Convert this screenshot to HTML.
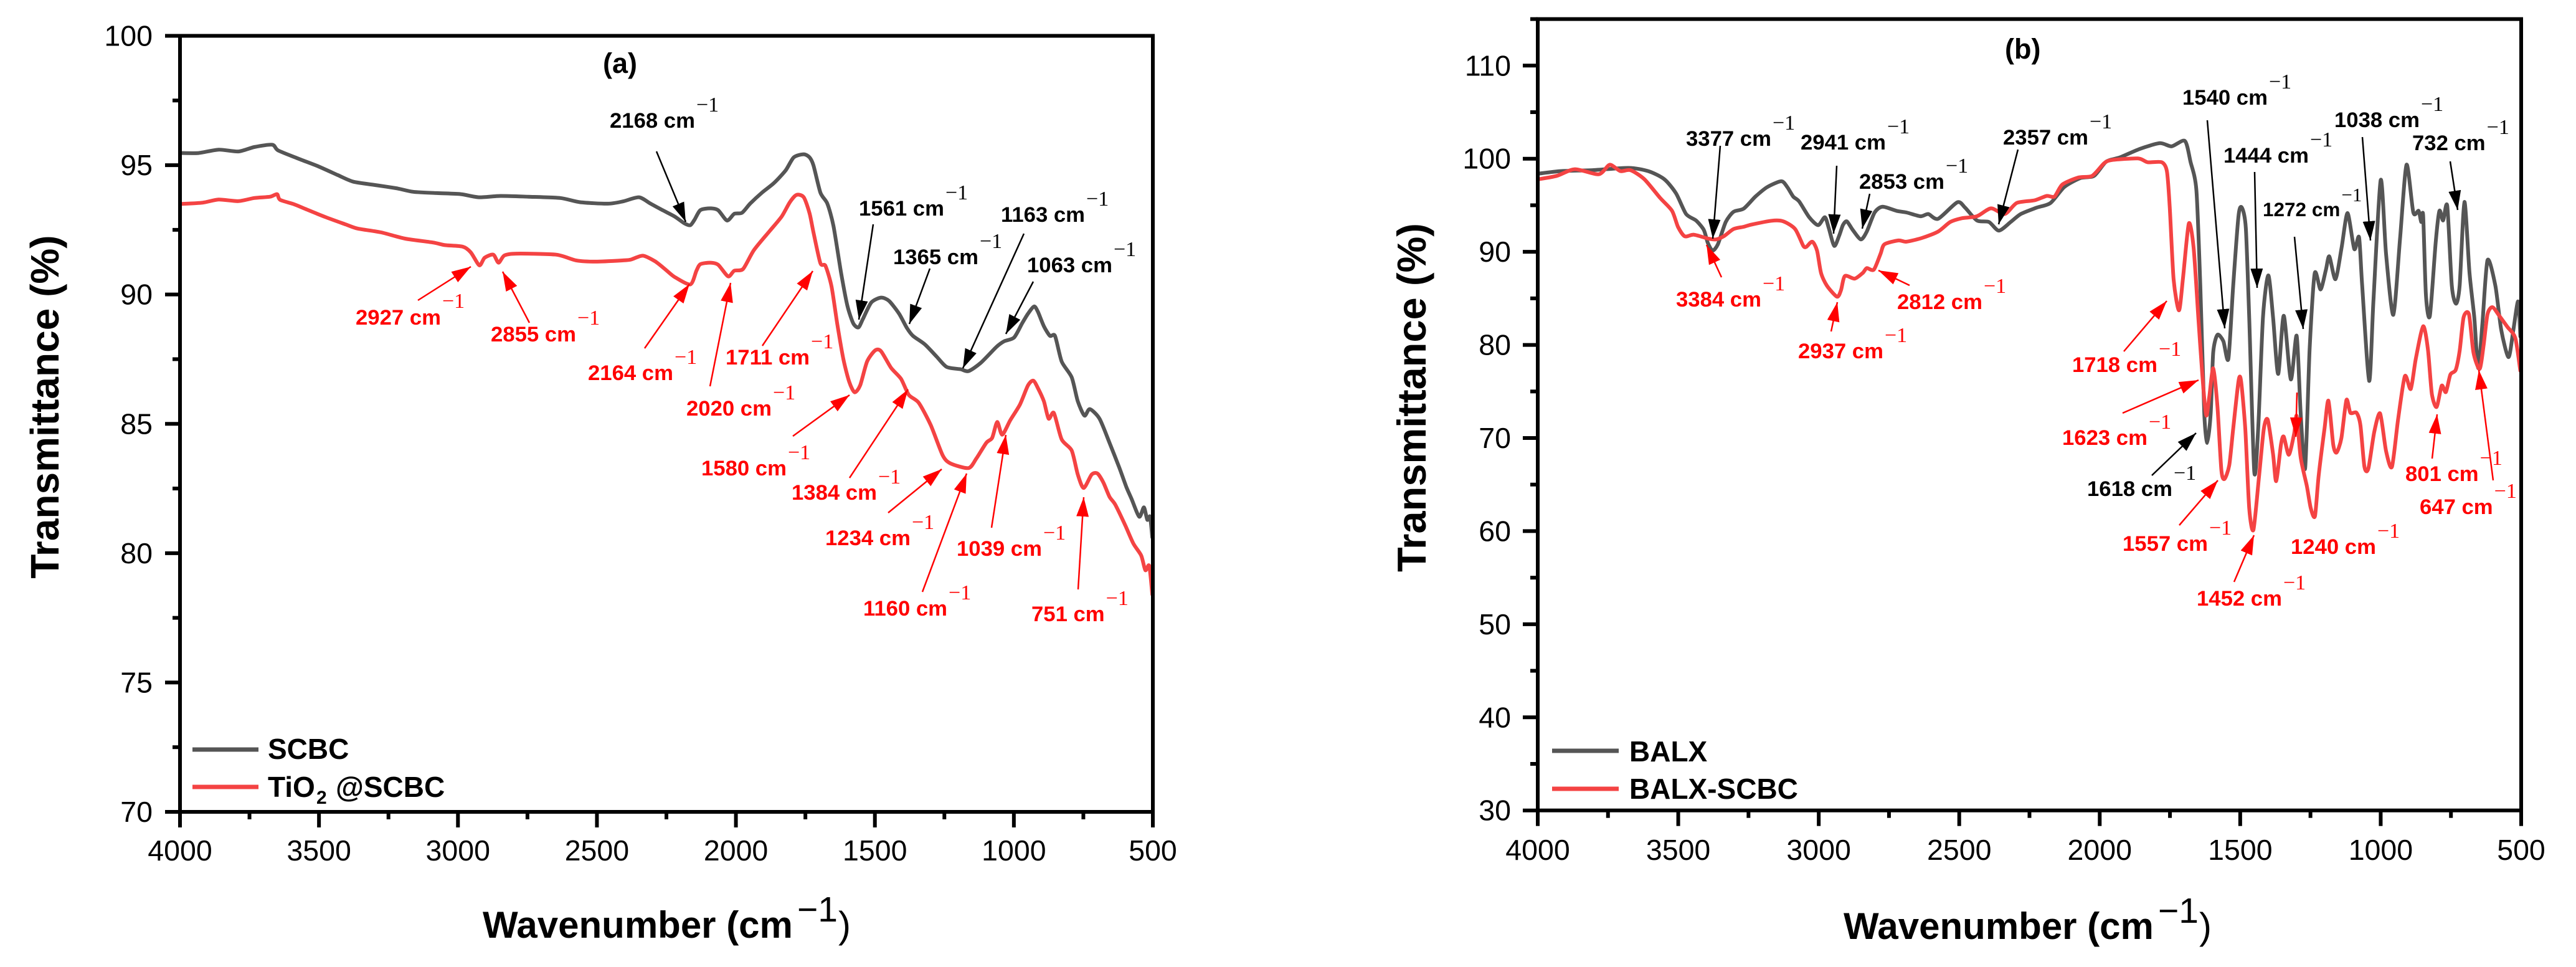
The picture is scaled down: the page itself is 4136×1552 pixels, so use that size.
<!DOCTYPE html>
<html lang="en">
<head>
<meta charset="utf-8">
<title>FTIR spectra of SCBC and BALX composites</title>
<style>
html,body{margin:0;padding:0;background:#fff;}
svg{display:block;}
text{font-family:"Liberation Sans",Arial,sans-serif;}
.tick{font-size:46.5px;fill:#000;}
.title{font-size:60px;font-weight:bold;fill:#000;}
.leg{font-size:46px;font-weight:bold;fill:#000;}
.pk{font-size:34.7px;font-weight:bold;}
.pk tspan{font-family:"Liberation Serif",serif;font-weight:normal;font-size:34px;}
.pks{font-size:31.5px;font-weight:bold;}
.pks tspan{font-family:"Liberation Serif",serif;font-weight:normal;font-size:31px;}
.r{fill:#f00;}
.k{fill:#000;}
.ar{stroke:#f00;stroke-width:2.5;marker-end:url(#head-red);}
.ak{stroke:#000;stroke-width:2.5;marker-end:url(#head-black);}
</style>
</head>
<body>
<svg xmlns="http://www.w3.org/2000/svg" width="4136" height="1552" viewBox="0 0 4136 1552">
<defs>
<marker id="head-red" markerUnits="userSpaceOnUse" markerWidth="32" markerHeight="20" refX="31" refY="10" orient="auto"><path d="M0 0L31 10L0 20Z" fill="#f00"/></marker>
<marker id="head-black" markerUnits="userSpaceOnUse" markerWidth="32" markerHeight="20" refX="31" refY="10" orient="auto"><path d="M0 0L31 10L0 20Z" fill="#000"/></marker>
</defs>
<rect width="4136" height="1552" fill="#fff"/>

<g id="panel-a-series"></g>
<g id="panel-a-axes"></g>
<g id="panel-b-series"></g>
<g id="panel-b-axes"></g>

<!-- Panel (a) text -->
<g>
<text x="968" y="117" font-size="45" font-weight="bold">(a)</text>
<text class="title" transform="translate(94,653) rotate(-90)" text-anchor="middle" style="font-size:64px">Transmittance (%)</text>
<text class="title" x="775" y="1505">Wavenumber (cm<tspan x="1280" y="1479" font-weight="normal" font-size="57">−1</tspan><tspan x="1346" y="1505" font-weight="normal">)</tspan></text>

<line x1="309" y1="1203" x2="415" y2="1203" stroke="#555" stroke-width="7"/>
<line x1="309" y1="1263" x2="415" y2="1263" stroke="#f44343" stroke-width="7"/>
<text class="leg" x="430" y="1218">SCBC</text>
<text class="leg" x="430" y="1279">TiO<tspan x="508" y="1290" font-size="30">2</tspan><tspan x="539" y="1279">@SCBC</tspan></text>

<line class="ak" x1="1054" y1="243" x2="1101" y2="356"/>
<line class="ak" x1="1402" y1="360" x2="1379" y2="513"/>
<line class="ak" x1="1493" y1="431" x2="1460" y2="520"/>
<line class="ak" x1="1644" y1="375" x2="1546" y2="591"/>
<line class="ak" x1="1659" y1="452" x2="1615" y2="536"/>
<line class="ar" x1="671" y1="482" x2="756" y2="428"/>
<line class="ar" x1="850" y1="518" x2="807" y2="436"/>
<line class="ar" x1="1035" y1="559" x2="1107" y2="456"/>
<line class="ar" x1="1140" y1="620" x2="1173" y2="454"/>
<line class="ar" x1="1224" y1="555" x2="1305" y2="435"/>
<line class="ar" x1="1273" y1="700" x2="1364" y2="634"/>
<line class="ar" x1="1364" y1="767" x2="1458" y2="625"/>
<line class="ar" x1="1426" y1="823" x2="1512" y2="753"/>
<line class="ar" x1="1481" y1="950" x2="1552" y2="760"/>
<line class="ar" x1="1592" y1="847" x2="1615" y2="698"/>
<line class="ar" x1="1731" y1="946" x2="1740" y2="798"/>

<text class="pk k" x="979" y="205">2168 cm<tspan dx="2" dy="-26">−1</tspan></text>
<text class="pk k" x="1379" y="346">1561 cm<tspan dx="2" dy="-26">−1</tspan></text>
<text class="pk k" x="1607" y="356">1163 cm<tspan dx="2" dy="-26">−1</tspan></text>
<text class="pk k" x="1434" y="424">1365 cm<tspan dx="2" dy="-26">−1</tspan></text>
<text class="pk k" x="1649" y="437">1063 cm<tspan dx="2" dy="-26">−1</tspan></text>
<text class="pk r" x="571" y="521">2927 cm<tspan dx="2" dy="-27">−1</tspan></text>
<text class="pk r" x="788" y="548">2855 cm<tspan dx="2" dy="-27">−1</tspan></text>
<text class="pk r" x="944" y="610">2164 cm<tspan dx="2" dy="-26">−1</tspan></text>
<text class="pk r" x="1165" y="585">1711 cm<tspan dx="2" dy="-26">−1</tspan></text>
<text class="pk r" x="1102" y="667">2020 cm<tspan dx="2" dy="-26">−1</tspan></text>
<text class="pk r" x="1126" y="763">1580 cm<tspan dx="2" dy="-26">−1</tspan></text>
<text class="pk r" x="1271" y="802">1384 cm<tspan dx="2" dy="-26">−1</tspan></text>
<text class="pk r" x="1325" y="875">1234 cm<tspan dx="2" dy="-26">−1</tspan></text>
<text class="pk r" x="1536" y="892">1039 cm<tspan dx="2" dy="-26">−1</tspan></text>
<text class="pk r" x="1386" y="988">1160 cm<tspan dx="2" dy="-26">−1</tspan></text>
<text class="pk r" x="1656" y="997">751 cm<tspan dx="2" dy="-26">−1</tspan></text>
</g>

<!-- Panel (b) text -->
<g>
<text x="3219" y="94" font-size="45" font-weight="bold">(b)</text>
<text class="title" transform="translate(2289,638) rotate(-90)" text-anchor="middle" style="font-size:65px">Transmittance (%)</text>
<text class="title" x="2960" y="1507">Wavenumber (cm<tspan x="3465" y="1481" font-weight="normal" font-size="57">−1</tspan><tspan x="3531" y="1507" font-weight="normal">)</tspan></text>

<line x1="2492" y1="1205" x2="2599" y2="1205" stroke="#555" stroke-width="7"/>
<line x1="2492" y1="1266" x2="2599" y2="1266" stroke="#f44343" stroke-width="7"/>
<text class="leg" x="2616" y="1222">BALX</text>
<text class="leg" x="2616" y="1282">BALX-SCBC</text>

<line class="ak" x1="2762" y1="234" x2="2750" y2="383"/>
<line class="ak" x1="2949" y1="266" x2="2944" y2="375"/>
<line class="ak" x1="3002" y1="311" x2="2990" y2="367"/>
<line class="ak" x1="3240" y1="240" x2="3209" y2="360"/>
<line class="ak" x1="3544" y1="193" x2="3572" y2="527"/>
<line class="ak" x1="3620" y1="276" x2="3624" y2="462"/>
<line class="ak" x1="3684" y1="380" x2="3698" y2="528"/>
<line class="ak" x1="3793" y1="220" x2="3806" y2="386"/>
<line class="ak" x1="3934" y1="259" x2="3946" y2="337"/>
<line class="ak" x1="3455" y1="763" x2="3526" y2="695"/>
<line class="ar" x1="2764" y1="445" x2="2740" y2="393"/>
<line class="ar" x1="2940" y1="532" x2="2950" y2="485"/>
<line class="ar" x1="3066" y1="458" x2="3016" y2="434"/>
<line class="ar" x1="3410" y1="564" x2="3479" y2="483"/>
<line class="ar" x1="3408" y1="663" x2="3530" y2="610"/>
<line class="ar" x1="3499" y1="843" x2="3561" y2="771"/>
<line class="ar" x1="3587" y1="934" x2="3619" y2="859"/>
<line class="ar" x1="3688" y1="630" x2="3686" y2="701"/>
<line class="ar" x1="3905" y1="736" x2="3913" y2="665"/>
<line class="ar" x1="4003" y1="771" x2="3980" y2="594"/>

<text class="pk k" x="2707" y="234">3377 cm<tspan dx="2" dy="-26">−1</tspan></text>
<text class="pk k" x="2891" y="240">2941 cm<tspan dx="2" dy="-26">−1</tspan></text>
<text class="pk k" x="2985" y="303">2853 cm<tspan dx="2" dy="-26">−1</tspan></text>
<text class="pk k" x="3216" y="232">2357 cm<tspan dx="2" dy="-26">−1</tspan></text>
<text class="pk k" x="3504" y="168">1540 cm<tspan dx="2" dy="-26">−1</tspan></text>
<text class="pk k" x="3570" y="261">1444 cm<tspan dx="2" dy="-26">−1</tspan></text>
<text class="pk k" x="3748" y="204">1038 cm<tspan dx="2" dy="-26">−1</tspan></text>
<text class="pk k" x="3873" y="241">732 cm<tspan dx="2" dy="-26">−1</tspan></text>
<text class="pks k" x="3633" y="347">1272 cm<tspan dx="2" dy="-24">−1</tspan></text>
<text class="pk k" x="3351" y="796">1618 cm<tspan dx="2" dy="-26">−1</tspan></text>
<text class="pk r" x="2691" y="492">3384 cm<tspan dx="2" dy="-26">−1</tspan></text>
<text class="pk r" x="2887" y="575">2937 cm<tspan dx="2" dy="-26">−1</tspan></text>
<text class="pk r" x="3046" y="496">2812 cm<tspan dx="2" dy="-26">−1</tspan></text>
<text class="pk r" x="3327" y="597">1718 cm<tspan dx="2" dy="-26">−1</tspan></text>
<text class="pk r" x="3311" y="714">1623 cm<tspan dx="2" dy="-26">−1</tspan></text>
<text class="pk r" x="3408" y="884">1557 cm<tspan dx="2" dy="-26">−1</tspan></text>
<text class="pk r" x="3527" y="972">1452 cm<tspan dx="2" dy="-26">−1</tspan></text>
<text class="pk r" x="3678" y="889">1240 cm<tspan dx="2" dy="-26">−1</tspan></text>
<text class="pk r" x="3862" y="772">801 cm<tspan dx="2" dy="-26">−1</tspan></text>
<text class="pk r" x="3885" y="825">647 cm<tspan dx="2" dy="-26">−1</tspan></text>
</g>
</svg>

<script>
const xMajorTicks = [4000,3500,3000,2500,2000,1500,1000,500];
const xMinorTicks = [3750,3250,2750,2250,1750,1250,750];
const yMajorTicksA = [100,95,90,85,80,75,70];
const yMinorTicksA = [97.5,92.5,87.5,82.5,77.5,72.5];
const yMajorTicksB = [110,100,90,80,70,60,50,40,30];
const yMinorTicksB = [115,105,95,85,75,65,55,45,35];

const scbcWavenumber = [4000,3933,3861,3790,3733,3668,3647,3576,3504,3433,3376,3290,3218,3161,3075,2990,2925,2847,2747,2632,2561,2461,2406,2349,2307,2264,2221,2185,2164,2149,2128,2092,2064,2032,2006,1978,1949,1906,1863,1821,1792,1756,1735,1721,1696,1671,1649,1621,1599,1578,1559,1542,1513,1478,1449,1413,1385,1363,1320,1278,1242,1192,1163,1120,1063,1035,999,970,949,927,913,892,870,852,828,792,770,746,727,692,656,620,595,577,549,532,520,510,502];
const scbcTransmittance = [95.47,95.47,95.60,95.53,95.70,95.79,95.57,95.26,94.96,94.62,94.36,94.22,94.10,93.97,93.92,93.88,93.76,93.81,93.78,93.73,93.57,93.51,93.60,93.76,93.51,93.26,93.02,92.75,92.68,92.89,93.26,93.33,93.26,92.86,93.12,93.16,93.51,93.94,94.31,94.80,95.30,95.42,95.30,94.99,93.94,93.51,92.65,90.80,89.57,88.89,88.73,89.08,89.69,89.88,89.75,89.26,88.71,88.40,88.07,87.60,87.20,87.11,87.04,87.35,87.97,88.19,88.34,88.89,89.26,89.54,89.32,88.77,88.40,88.40,87.41,86.80,85.87,85.32,85.57,85.20,84.27,83.29,82.55,82.11,81.41,81.77,81.29,81.41,80.61];

const tio2Wavenumber = [4000,3919,3861,3790,3733,3676,3651,3640,3590,3547,3476,3404,3361,3276,3190,3090,3047,2983,2954,2923,2904,2873,2854,2833,2790,2647,2575,2504,2406,2378,2335,2292,2256,2221,2164,2142,2128,2092,2064,2028,2006,1974,1935,1878,1835,1806,1782,1756,1735,1721,1696,1678,1656,1635,1613,1592,1573,1553,1528,1499,1478,1442,1406,1378,1342,1299,1256,1228,1163,1135,1099,1078,1060,1042,1013,978,949,930,913,892,875,856,828,792,770,749,720,699,678,656,635,599,570,542,527,513,502];
const tio2Transmittance = [93.50,93.55,93.67,93.61,93.73,93.78,93.88,93.66,93.49,93.30,92.99,92.71,92.55,92.40,92.16,92.01,91.91,91.85,91.63,91.13,91.42,91.54,91.23,91.51,91.58,91.54,91.32,91.27,91.32,91.35,91.50,91.29,90.99,90.68,90.39,90.92,91.17,91.23,91.15,90.70,90.92,90.99,91.72,92.46,93.02,93.57,93.85,93.76,93.14,92.40,91.21,91.11,90.31,88.83,87.48,86.61,86.22,86.49,87.41,87.84,87.81,87.17,86.74,86.12,85.81,84.95,83.78,83.47,83.29,83.66,84.27,84.46,85.07,84.58,85.14,85.75,86.49,86.67,86.37,85.87,85.20,85.42,84.40,83.97,83.04,82.52,83.04,83.08,82.73,82.18,81.87,81.07,80.37,79.91,79.34,79.51,78.40];

const balxWavenumber = [4000,3918,3805,3677,3607,3550,3508,3472,3437,3409,3395,3378,3359,3331,3303,3267,3225,3183,3133,3112,3091,3070,3034,3002,2978,2964,2945,2928,2914,2900,2879,2850,2829,2801,2773,2723,2688,2638,2610,2575,2507,2479,2437,2394,2359,2317,2281,2225,2175,2126,2069,2020,1977,1928,1857,1786,1744,1697,1677,1656,1642,1628,1617,1605,1596,1581,1560,1542,1525,1506,1494,1480,1468,1450,1436,1419,1400,1383,1365,1345,1320,1299,1285,1269,1253,1235,1214,1195,1183,1161,1139,1118,1094,1077,1066,1041,1026,1000,981,955,931,908,884,865,856,849,839,825,804,791,778,763,747,732,719,702,684,667,653,638,620,592,571,545,528,511,503];
const balxTransmittance = [98.39,98.67,98.77,99.01,98.67,97.81,96.28,94.06,93.37,92.35,90.98,90.13,90.81,93.20,94.30,94.64,95.94,96.96,97.58,96.96,95.94,95.42,93.72,92.86,93.72,92.52,90.64,91.67,92.86,93.27,92.35,91.33,92.18,94.23,94.84,94.40,94.23,93.82,94.06,93.55,95.32,94.74,93.37,93.20,92.28,93.20,94.06,94.74,95.25,96.96,97.92,98.16,99.69,100.14,101.06,101.67,101.33,101.91,99.69,96.62,86.37,72.71,69.47,72.70,79.20,81.08,80.40,78.52,86.37,93.89,94.74,92.52,82.96,66.39,71.00,82.96,87.47,82.96,76.88,83.13,76.30,80.98,72.71,66.74,79.54,87.67,85.96,88.08,89.51,87.06,90.47,94.16,90.30,91.56,86.37,76.13,84.67,97.71,89.79,83.23,91.50,99.35,94.23,94.40,93.20,93.90,85.30,83.13,91.15,94.40,93.37,94.91,86.37,84.43,86.37,95.36,87.74,82.96,77.50,82.28,89.10,86.37,81.60,78.69,81.60,84.67,80.90];

const balxScbcWavenumber = [4000,3932,3868,3783,3744,3706,3670,3621,3564,3522,3501,3477,3444,3395,3366,3338,3303,3267,3239,3168,3126,3084,3055,3044,3023,3006,2992,2971,2935,2921,2907,2872,2843,2829,2804,2780,2766,2716,2688,2631,2575,2532,2490,2437,2387,2338,2295,2232,2189,2161,2133,2076,2027,1984,1956,1864,1829,1779,1761,1751,1737,1718,1704,1683,1666,1649,1635,1621,1610,1596,1581,1567,1556,1539,1525,1506,1497,1482,1468,1453,1433,1416,1402,1383,1372,1355,1345,1327,1308,1299,1285,1263,1249,1234,1221,1200,1186,1169,1157,1140,1122,1108,1086,1072,1058,1044,1023,1002,981,960,938,914,893,875,849,832,818,801,783,768,752,733,719,705,686,670,648,634,620,602,578,549,521,503];
const balxScbcTransmittance = [97.78,98.16,98.87,98.33,99.35,98.67,98.77,97.81,95.77,94.40,92.69,91.67,91.84,91.43,91.33,91.67,92.45,92.69,92.93,93.34,93.27,92.45,90.64,90.54,91.09,90.13,87.74,86.37,85.18,85.86,87.40,87.12,87.74,88.25,88.08,89.79,90.81,91.22,91.09,91.50,92.18,93.20,93.61,93.82,94.67,94.06,95.25,95.53,96.00,95.94,97.23,97.98,98.16,99.52,99.86,100.03,99.62,99.62,98.67,94.91,87.06,83.71,87.06,93.03,90.47,82.96,76.81,72.44,74.42,77.49,73.39,66.56,65.60,67.08,71.00,76.13,76.13,71.00,62.47,60.14,65.88,71.00,71.96,68.27,65.37,69.30,70.15,68.20,70.49,72.37,67.93,64.86,62.47,61.61,65.88,71.00,74.01,69.30,68.44,69.98,74.08,72.71,72.71,71.35,66.91,66.73,70.66,72.64,68.61,66.91,72.03,76.64,75.27,78.52,82.00,79.54,74.76,73.33,75.62,74.93,76.81,77.32,79.37,82.96,83.30,79.20,77.42,79.88,83.30,84.05,83.13,81.93,80.74,77.22];

const SVG_NS = 'http://www.w3.org/2000/svg';

function xScaleA(w){ return 289 + (4000 - w) / 3500 * 1562; }
function yScaleA(t){ return 57.5 + (100 - t) / 30 * 1245.5; }
function xScaleB(w){ return 2469 + (4000 - w) / 3500 * 1579; }
function yScaleB(t){ return 30.6 + (115 - t) / 85 * 1270.1; }

function curvePath(wn, vals, xs, ys){
  const p = wn.map(function(w, i){ return [xs(w), ys(vals[i])]; });
  let d = 'M' + p[0][0].toFixed(1) + ' ' + p[0][1].toFixed(1);
  for (let i = 0; i < p.length - 1; i++){
    const a = p[Math.max(i - 1, 0)], b = p[i], c = p[i + 1], e = p[Math.min(i + 2, p.length - 1)];
    const c1x = b[0] + (c[0] - a[0]) / 8, c1y = b[1] + (c[1] - a[1]) / 8;
    const c2x = c[0] - (e[0] - b[0]) / 8, c2y = c[1] - (e[1] - b[1]) / 8;
    d += 'C' + c1x.toFixed(1) + ' ' + c1y.toFixed(1) + ' ' + c2x.toFixed(1) + ' ' + c2y.toFixed(1) + ' ' + c[0].toFixed(1) + ' ' + c[1].toFixed(1);
  }
  return d;
}

function drawSeries(parentId, wn, vals, xs, ys, color, name){
  const el = document.createElementNS(SVG_NS, 'path');
  el.setAttribute('d', curvePath(wn, vals, xs, ys));
  el.setAttribute('fill', 'none');
  el.setAttribute('stroke', color);
  el.setAttribute('stroke-width', '6');
  el.setAttribute('stroke-linejoin', 'round');
  el.setAttribute('stroke-linecap', 'round');
  
  
  document.getElementById(parentId).appendChild(el);
}

function tickLine(parent, x1, y1, x2, y2){
  const el = document.createElementNS(SVG_NS, 'line');
  el.setAttribute('x1', x1);
  el.setAttribute('y1', y1);
  el.setAttribute('x2', x2);
  el.setAttribute('y2', y2);
  el.setAttribute('stroke', '#000');
  el.setAttribute('stroke-width', '6');
  
  
  parent.appendChild(el);
}

function tickLabel(parent, x, y, anchor, str){
  const el = document.createElementNS(SVG_NS, 'text');
  el.setAttribute('x', x);
  el.setAttribute('y', y);
  el.setAttribute('text-anchor', anchor);
  el.setAttribute('class', 'tick');
  
  
  el.textContent = str;
  parent.appendChild(el);
}

function drawAxes(parentId, xs, ys, yMajor, yMinor, yTop, yBottom, labelRight, xLabelBase){
  const g = document.getElementById(parentId);
  const left = xs(4000), right = xs(500), top = ys(yTop), bottom = ys(yBottom);
  const frame = document.createElementNS(SVG_NS, 'rect');
  frame.setAttribute('x', left);
  frame.setAttribute('y', top);
  frame.setAttribute('width', right - left);
  frame.setAttribute('height', bottom - top);
  frame.setAttribute('fill', 'none');
  frame.setAttribute('stroke', '#000');
  frame.setAttribute('stroke-width', '6');
  
  
  g.appendChild(frame);
  xMajorTicks.forEach(function(w){
    tickLine(g, xs(w), bottom, xs(w), bottom + 25);
    tickLabel(g, xs(w), xLabelBase, 'middle', String(w));
  });
  xMinorTicks.forEach(function(w){
    tickLine(g, xs(w), bottom, xs(w), bottom + 12);
  });
  yMajor.forEach(function(t){
    tickLine(g, left, ys(t), left - 24, ys(t));
    tickLabel(g, labelRight, ys(t) + 16, 'end', String(t));
  });
  yMinor.forEach(function(t){
    tickLine(g, left, ys(t), left - 12, ys(t));
  });
}

drawSeries('panel-a-series', scbcWavenumber, scbcTransmittance, xScaleA, yScaleA, '#555555', 'series-scbc');
drawSeries('panel-a-series', tio2Wavenumber, tio2Transmittance, xScaleA, yScaleA, '#f44343', 'series-tio2-scbc');
drawSeries('panel-b-series', balxWavenumber, balxTransmittance, xScaleB, yScaleB, '#555555', 'series-balx');
drawSeries('panel-b-series', balxScbcWavenumber, balxScbcTransmittance, xScaleB, yScaleB, '#f44343', 'series-balx-scbc');
drawAxes('panel-a-axes', xScaleA, yScaleA, yMajorTicksA, yMinorTicksA, 100, 70, 245, 1381);
drawAxes('panel-b-axes', xScaleB, yScaleB, yMajorTicksB, yMinorTicksB, 115, 30, 2426, 1380);
</script>
</body>
</html>
